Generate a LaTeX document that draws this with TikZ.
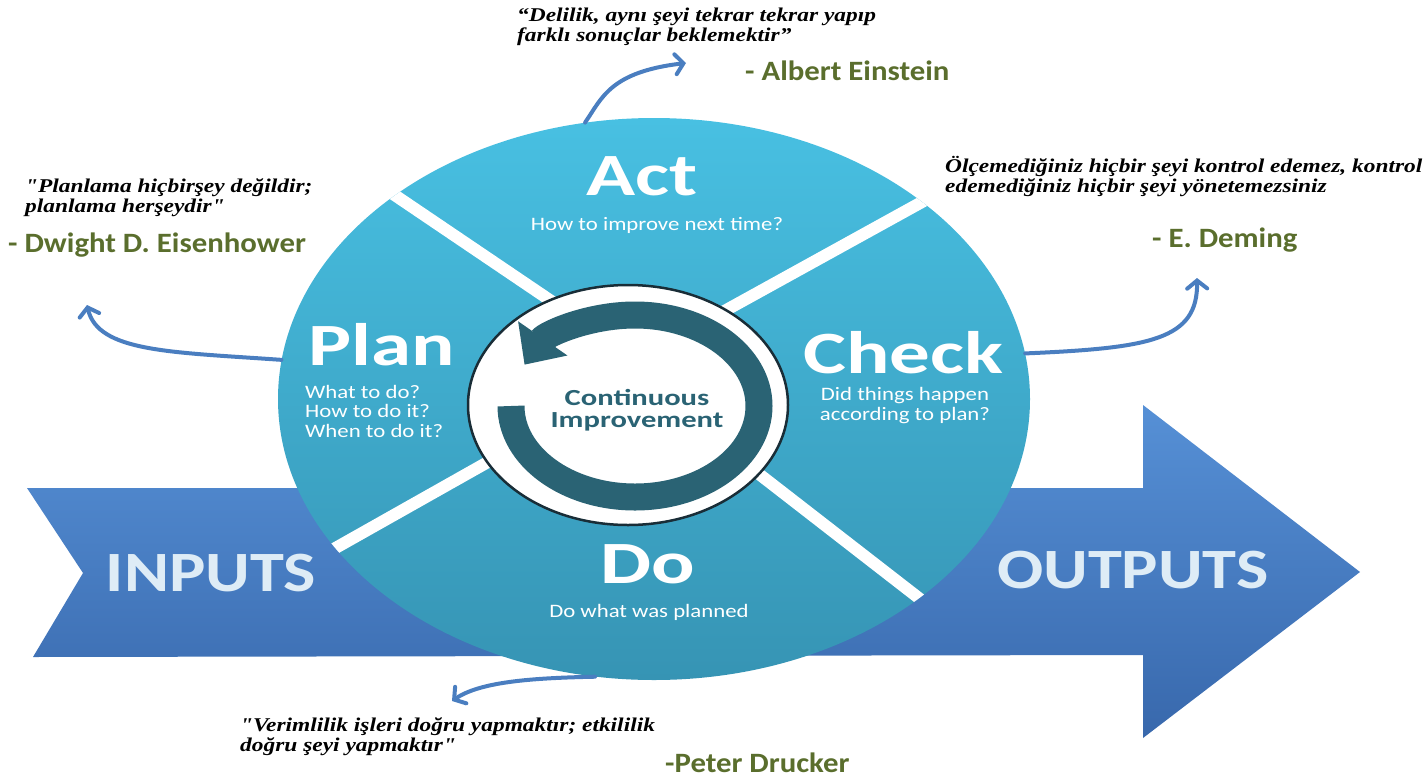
\documentclass[tikz,border=0pt]{standalone}
\usepackage{fontspec}
\setmainfont{Liberation Serif}
\newfontfamily\quotefont[FakeStretch=1.2]{Liberation Serif}
\newfontfamily\namefont[FakeStretch=1.1]{Carlito}
\newfontfamily\phasefont[FakeStretch=1.35]{Carlito}
\newfontfamily\hintfont[FakeStretch=1.2]{Carlito}
\newfontfamily\bannerfont[FakeStretch=1.2]{Carlito}
\newfontfamily\hubfont[FakeStretch=1.33]{Carlito}
\usepackage{tikz}
\usetikzlibrary{arrows.meta}
\usetikzlibrary{shapes.geometric}
\definecolor{cyantop}{RGB}{72,192,226}
\definecolor{cyanbot}{RGB}{54,148,180}
\definecolor{bandtop}{RGB}{86,144,214}
\definecolor{bandbot}{RGB}{56,104,172}
\definecolor{ringteal}{RGB}{42,99,116}
\definecolor{hubline}{RGB}{25,45,55}
\definecolor{linkblue}{RGB}{74,126,192}
\definecolor{namegreen}{RGB}{90,110,45}
\definecolor{bannertext}{RGB}{222,236,246}
\tikzstyle{phase}=[font=\phasefont\bfseries\fontsize{60}{60}\selectfont,text=white,inner sep=0pt]
\tikzstyle{hint}=[font=\hintfont\fontsize{19}{19.5}\selectfont,text=white,inner sep=0pt]
\tikzstyle{quote}=[font=\quotefont\bfseries\itshape\fontsize{19.5}{20}\selectfont,align=left,inner sep=0pt,anchor=base west]
\tikzstyle{author}=[font=\namefont\bfseries\fontsize{28}{28}\selectfont,text=namegreen,inner sep=0pt,anchor=base west]
\tikzstyle{banner}=[font=\bannerfont\bfseries\fontsize{57}{57}\selectfont,text=bannertext,inner sep=0pt,anchor=base]
\tikzstyle{spoke}=[draw=white,line width=12pt]
\tikzstyle{link}=[draw=linkblue,line width=4pt,line cap=round,-{Straight Barb[length=8pt,width=20pt,line cap=round]}]

\begin{document}
\begin{tikzpicture}[x=1pt,y=-1pt]
\useasboundingbox (0,0) rectangle (1425,780);
% band
\path[top color=bandtop,bottom color=bandbot] (27,488) -- (1143,488) -- (1143,405) -- (1360,572)
  -- (1143,738) -- (1143,655) -- (33,657) -- (83,573) -- cycle;
\node[banner] (inputs) at (211,591) {INPUTS};
\node[banner] (outputs) at (1133,588) {OUTPUTS};

% wheel
\node[ellipse,minimum width=752pt,minimum height=562pt,inner sep=0pt,top color=cyantop,bottom color=cyanbot] (wheel) at (654,399) {};
\begin{scope}
\clip (654,399) ellipse [x radius=376, y radius=281];
\draw[spoke] (600,334) -- (362,173);
\draw[spoke] (690,330) -- (960,181);
\draw[spoke] (550,427) -- (300,568);
\draw[spoke] (710,436) -- (960,630);
\end{scope}
\node[ellipse,minimum width=320pt,minimum height=240pt,inner sep=0pt,fill=white,draw=hubline,line width=2.5pt] (hub) at (628,405) {};
\draw[ringteal,line width=27pt,-{Triangle[length=32pt,width=58pt]}] (511,406) arc [start angle=180, end angle=-153, x radius=124, y radius=91];
\node[font=\hubfont\bfseries\fontsize{23}{22}\selectfont,text=ringteal,align=center,inner sep=0pt,anchor=base] (ci) at (637,427) {Continuous\\Improvement};

% labels
\node[phase,anchor=base] (act) at (642,195) {Act};
\node[hint,anchor=base] (actsub) at (657,230) {How to improve next time?};
\node[phase,anchor=base west] (plan) at (308,365) {Plan};
\node[hint,anchor=base west,align=left] (plansub) at (305,437) {What to do?\\How to do it?\\When to do it?};
\node[phase,anchor=base west] (check) at (803,373) {Check};
\node[hint,anchor=base,align=center] (checksub) at (905,420) {Did things happen\\according to plan?};
\node[phase,anchor=base] (do) at (648,583) {Do};
\node[hint,anchor=base] (dosub) at (649,617) {Do what was planned};

% quotes
\node[quote] (q1) at (517,41) {“Delilik, aynı şeyi tekrar tekrar yapıp\\farklı sonuçlar beklemektir”};
\node[author] (a1) at (745,80) {- Albert Einstein};
\node[quote] (q2) at (25,212) {"Planlama hiçbirşey değildir;\\planlama herşeydir"};
\node[author] (a2) at (8,252) {- Dwight D. Eisenhower};
\node[quote] (q3) at (945,192) {Ölçemediğiniz hiçbir şeyi kontrol edemez, kontrol\\edemediğiniz hiçbir şeyi yönetemezsiniz};
\node[author] (a3) at (1152,247) {- E. Deming};
\node[quote] (q4) at (240,751) {"Verimlilik işleri doğru yapmaktır; etkililik\\doğru şeyi yapmaktır"};
\node[author] (a4) at (665,772) {-Peter Drucker};

% paths
\coordinate (tip1) at (686,63);
\coordinate (tip2) at (87,305);
\coordinate (tip3) at (1197,278);
\coordinate (tip4) at (452,701);
\draw[link] (wheel.104) .. controls (602,98) and (610,72) .. (tip1);
\draw[link] (wheel.174) .. controls (170,352) and (98,352) .. (tip2);
\draw[link] (wheel.7) .. controls (1150,348) and (1198,340) .. (tip3);
\draw[link] (wheel.-102) .. controls (530,678) and (480,682) .. (tip4);
\end{tikzpicture}
\end{document}
